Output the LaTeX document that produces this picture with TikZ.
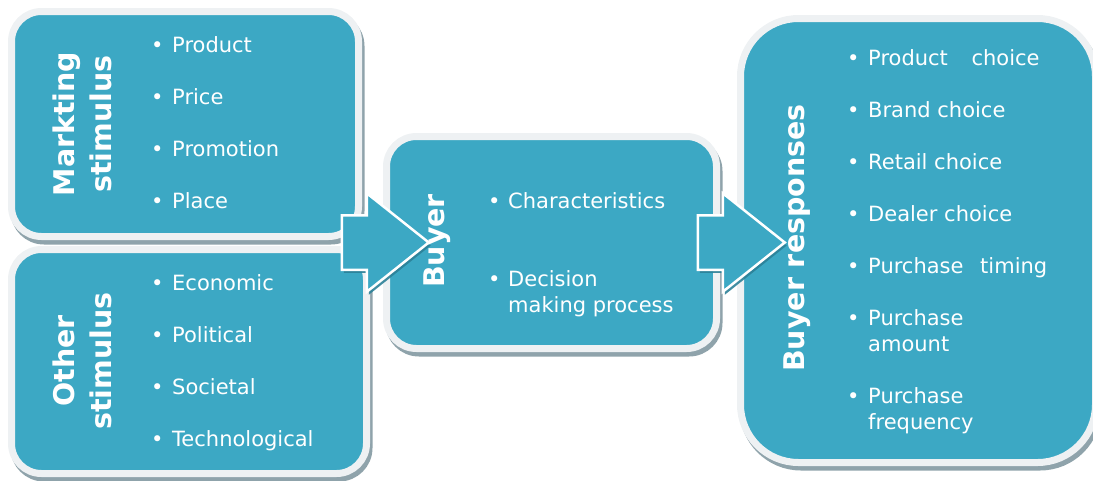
\documentclass[tikz,border=0pt]{standalone}
\usepackage{fontspec}
\setmainfont{DejaVu Sans}
\usetikzlibrary{calc,shapes.arrows,shadows}

\definecolor{tealfill}{HTML}{3CA8C4}
\definecolor{rimgray}{HTML}{EEF1F3}
\definecolor{shadowgray}{HTML}{8FA3AB}
\definecolor{arrowshade}{HTML}{2C8198}

\tikzset{
  stimbox/.style={rectangle, fill=tealfill, draw=rimgray, line width=7pt,
    rounded corners=30pt, inner sep=0pt,
    drop shadow={shadow xshift=2.5pt, shadow yshift=-4.5pt, fill=shadowgray,
      draw=shadowgray, line width=7pt, opacity=1}},
  blockarrow/.style={single arrow, fill=tealfill, draw=white, line width=2.5pt,
    inner xsep=0pt, inner ysep=26pt, minimum width=96pt, minimum height=87pt,
    single arrow head extend=22pt, single arrow tip angle=77,
    drop shadow={shadow xshift=2pt, shadow yshift=-3pt, fill=arrowshade,
      opacity=.9}},
  titletext/.style={text=white, font=\fontsize{28.5}{37}\selectfont\bfseries,
    align=center, rotate=90, inner sep=0pt},
  listtext/.style={text=white, font=\fontsize{21}{26}\selectfont,
    anchor=north west, inner sep=0pt}
}
\newcommand{\bul}{\makebox[12pt]{\textbullet}}

\begin{document}
\begin{tikzpicture}[x=1pt,y=-1pt]
  \useasboundingbox (0,0) rectangle (1093,480);

  % boxes
  \node[stimbox, minimum width=347pt, minimum height=225pt] (mark) at (185,124) {};
  \node[stimbox, minimum width=355pt, minimum height=224pt] (other) at (189,361.5) {};
  \node[stimbox, minimum width=330pt, minimum height=212pt] (buyer) at (551.5,242.5) {};
  \node[stimbox, rounded corners=58pt, minimum width=355pt, minimum height=444pt] (resp) at (918,240.5) {};

  % block arrows
  \node[blockarrow, anchor=tail] (arrA) at ($(mark.east |- buyer)+(-21.5,0)$) {};
  \node[blockarrow, anchor=tail] (arrB) at ($(buyer.east)+(-23.5,0)$) {};

  % titles
  \node[titletext] (markT) at (82,124) {Markting\\stimulus};
  \node[titletext] (otherT) at (82,361) {Other\\stimulus};
  \node[titletext] (buyerT) at (437,241) {Buyer};
  \node[titletext] (respT) at (797,238) {Buyer responses};

  % lists
  \node[listtext] (markL) at (151,33.8) {%
    \begin{tabular}{@{}l@{\hspace{9pt}}l@{}}
      \bul & Product\\[26pt]
      \bul & Price\\[26pt]
      \bul & Promotion\\[26pt]
      \bul & Place
    \end{tabular}};
  \node[listtext] (otherL) at (151,271.8) {%
    \begin{tabular}{@{}l@{\hspace{9pt}}l@{}}
      \bul & Economic\\[26pt]
      \bul & Political\\[26pt]
      \bul & Societal\\[26pt]
      \bul & Technological
    \end{tabular}};
  \node[listtext] (buyerL) at (488,189.8) {%
    \begin{tabular}{@{}l@{\hspace{8pt}}l@{}}
      \bul & Characteristics\\[52pt]
      \bul & Decision\\
           & making process
    \end{tabular}};
  \node[listtext] (respL) at (847,46.8) {%
    \begin{tabular}{@{}l@{\hspace{9pt}}l@{}}
      \bul & Product\hspace{17pt} choice\\[26pt]
      \bul & Brand choice\\[26pt]
      \bul & Retail choice\\[26pt]
      \bul & Dealer choice\\[26pt]
      \bul & Purchase\hspace{10pt} timing\\[26pt]
      \bul & Purchase\\
           & amount\\[26pt]
      \bul & Purchase\\
           & frequency
    \end{tabular}};
\end{tikzpicture}
\end{document}
